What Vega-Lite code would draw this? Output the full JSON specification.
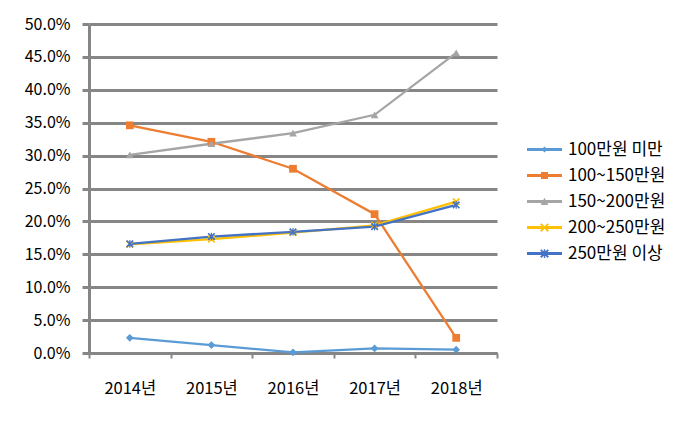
{
  "$schema": "https://vega.github.io/schema/vega-lite/v6.json",
  "autosize": "none",
  "width": 408,
  "height": 329,
  "padding": {"left": 89, "top": 24, "right": 203, "bottom": 77},
  "background": "white",
  "config": {
    "font": "Noto Sans CJK KR",
    "view": {"stroke": null},
    "axis": {"labelFont": "Noto Sans CJK KR", "labelColor": "#000000"},
    "legend": {"symbolOpacity": 1}
  },
  "data": {
    "values": [
      {"year": "2014년", "series": "100만원 미만", "value": 0.023},
      {"year": "2015년", "series": "100만원 미만", "value": 0.012},
      {"year": "2016년", "series": "100만원 미만", "value": 0.001},
      {"year": "2017년", "series": "100만원 미만", "value": 0.007},
      {"year": "2018년", "series": "100만원 미만", "value": 0.005},
      {"year": "2014년", "series": "100~150만원", "value": 0.346},
      {"year": "2015년", "series": "100~150만원", "value": 0.321},
      {"year": "2016년", "series": "100~150만원", "value": 0.280},
      {"year": "2017년", "series": "100~150만원", "value": 0.211},
      {"year": "2018년", "series": "100~150만원", "value": 0.023},
      {"year": "2014년", "series": "150~200만원", "value": 0.301},
      {"year": "2015년", "series": "150~200만원", "value": 0.318},
      {"year": "2016년", "series": "150~200만원", "value": 0.334},
      {"year": "2017년", "series": "150~200만원", "value": 0.362},
      {"year": "2018년", "series": "150~200만원", "value": 0.456},
      {"year": "2014년", "series": "200~250만원", "value": 0.165},
      {"year": "2015년", "series": "200~250만원", "value": 0.173},
      {"year": "2016년", "series": "200~250만원", "value": 0.183},
      {"year": "2017년", "series": "200~250만원", "value": 0.194},
      {"year": "2018년", "series": "200~250만원", "value": 0.230},
      {"year": "2014년", "series": "250만원 이상", "value": 0.166},
      {"year": "2015년", "series": "250만원 이상", "value": 0.177},
      {"year": "2016년", "series": "250만원 이상", "value": 0.184},
      {"year": "2017년", "series": "250만원 이상", "value": 0.192},
      {"year": "2018년", "series": "250만원 이상", "value": 0.225}
    ]
  },
  "encoding": {
    "x": {
      "field": "year", "type": "ordinal",
      "scale": {"paddingInner": 0, "paddingOuter": 0},
      "axis": {
        "title": null, "labelAngle": 0, "labelFontSize": 16.5, "labelPadding": 22,
        "domainColor": "#868686", "domainWidth": 3,
        "tickColor": "#868686", "tickWidth": 2, "tickSize": 5, "tickBand": "extent",
        "grid": false
      }
    },
    "y": {
      "field": "value", "type": "quantitative",
      "scale": {"domain": [0, 0.5], "nice": false},
      "axis": {
        "title": null, "format": ".1%", "values": [0, 0.05, 0.1, 0.15, 0.2, 0.25, 0.3, 0.35, 0.4, 0.45, 0.5],
        "labelFontSize": 16, "labelPadding": 12,
        "domainColor": "#868686", "domainWidth": 3,
        "tickColor": "#868686", "tickWidth": 3, "tickSize": 7,
        "grid": true, "gridColor": "#868686", "gridWidth": 3
      }
    }
  },
  "resolve": {"scale": {"color": "independent", "shape": "independent"}},
  "layer": [
    {
      "mark": {"type": "line", "strokeWidth": 2.3},
      "encoding": {
        "color": {
          "field": "series", "type": "nominal", "legend": null,
          "scale": {"domain": ["100만원 미만", "100~150만원", "150~200만원", "200~250만원", "250만원 이상"],
                    "range": ["#5B9BD5", "#ED7D31", "#A5A5A5", "#FFC000", "#4472C4"]}
        }
      }
    },
    {
      "mark": {"type": "point", "filled": true, "opacity": 1, "size": 60},
      "encoding": {
        "color": {
          "field": "series", "type": "nominal", "legend": null,
          "scale": {"domain": ["100만원 미만", "100~150만원", "150~200만원", "200~250만원", "250만원 이상"],
                    "range": ["#5B9BD5", "#ED7D31", "#A5A5A5", "#FFC000", "#4472C4"]}
        },
        "shape": {
          "field": "series", "type": "nominal", "legend": null,
          "scale": {"domain": ["100만원 미만", "100~150만원", "150~200만원", "200~250만원", "250만원 이상"],
                    "range": ["diamond", "square", "triangle-up",
                              "M-1,-0.7L-0.7,-1L0,-0.3L0.7,-1L1,-0.7L0.3,0L1,0.7L0.7,1L0,0.3L-0.7,1L-1,0.7L-0.3,0Z",
                              "M-1,-0.7L-0.7,-1L0,-0.3L0.7,-1L1,-0.7L0.3,0L1,0.7L0.7,1L0,0.3L-0.7,1L-1,0.7L-0.3,0ZM-0.15,-1H0.15V1H-0.15Z"]}
        }
      }
    },
    {
      "mark": {"type": "point", "filled": true, "opacity": 0},
      "encoding": {
        "color": {
          "field": "series", "type": "nominal",
          "scale": {"domain": ["100만원 미만", "100~150만원", "150~200만원", "200~250만원", "250만원 이상"],
                    "range": ["#5B9BD5", "#ED7D31", "#A5A5A5", "#FFC000", "#4472C4"]},
          "legend": {
            "title": null, "orient": "none", "legendX": 438, "legendY": 108,
            "labelFontSize": 17, "labelColor": "#000000", "labelOffset": 6,
            "symbolSize": 1225, "symbolStrokeWidth": 0, "rowPadding": 0, "padding": 0
          }
        },
        "shape": {
          "field": "series", "type": "nominal",
          "scale": {"domain": ["100만원 미만", "100~150만원", "150~200만원", "200~250만원", "250만원 이상"],
                    "range": ["M-1,-0.08H1V0.08H-1ZM0,-0.17L0.17,0L0,0.17L-0.17,0Z",
                              "M-1,-0.08H1V0.08H-1ZM-0.2,-0.2H0.2V0.2H-0.2Z",
                              "M-1,-0.08H1V0.08H-1ZM0,-0.22L0.22,0.2H-0.22Z",
                              "M-1,-0.08H1V0.08H-1ZM-0.25,-0.175L-0.175,-0.25L0,-0.075L0.175,-0.25L0.25,-0.175L0.075,0L0.25,0.175L0.175,0.25L0,0.075L-0.175,0.25L-0.25,0.175L-0.075,0Z",
                              "M-1,-0.08H1V0.08H-1ZM-0.25,-0.175L-0.175,-0.25L0,-0.075L0.175,-0.25L0.25,-0.175L0.075,0L0.25,0.175L0.175,0.25L0,0.075L-0.175,0.25L-0.25,0.175L-0.075,0ZM-0.04,-0.25H0.04V0.25H-0.04Z"]},
          "legend": {
            "title": null, "orient": "none", "legendX": 438, "legendY": 108,
            "labelFontSize": 17, "labelColor": "#000000", "labelOffset": 6,
            "symbolSize": 1225, "symbolStrokeWidth": 0, "rowPadding": 0, "padding": 0
          }
        }
      }
    }
  ]
}
